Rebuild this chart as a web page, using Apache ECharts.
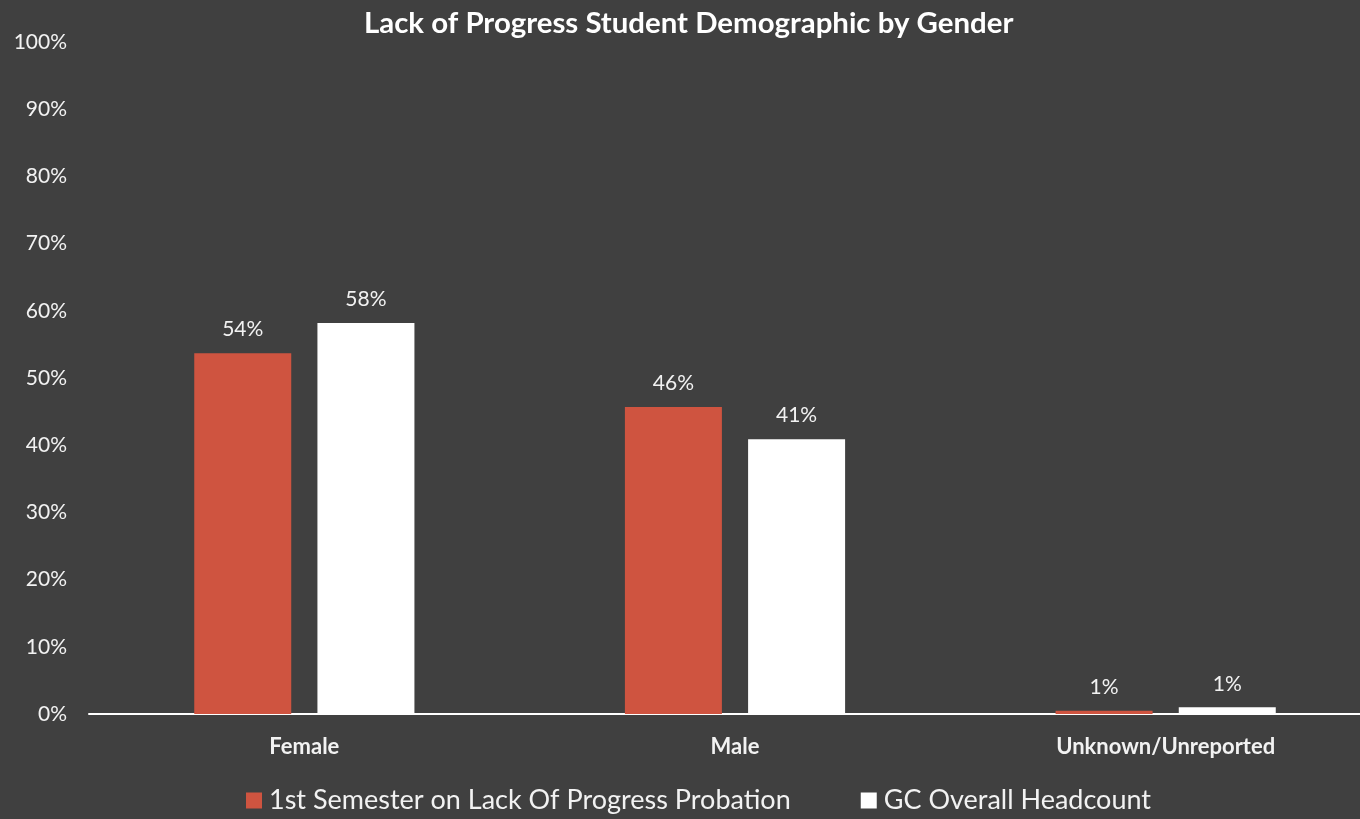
<!DOCTYPE html>
<html>
<head>
<meta charset="utf-8">
<script src="https://cdn.jsdelivr.net/npm/echarts@6/dist/echarts.min.js"></script>
<style>
html,body{margin:0;padding:0;background:#404040;}
#chart{width:1360px;height:819px;}
</style>
</head>
<body>
<div id="chart"></div>
<script>
const categories = ['Female', 'Male', 'Unknown/Unreported'];
const seriesNames = ['1st Semester on Lack Of Progress Probation', 'GC Overall Headcount'];
const probationValues = [53.7, 45.7, 0.5];
const headcountValues = [58.2, 40.9, 1.0];
const yTicks = [0, 10, 20, 30, 40, 50, 60, 70, 80, 90, 100];

const FONT = 'Lato, "Open Sans", sans-serif';
const chart = echarts.init(document.getElementById('chart'));
const labelCfg = {
  show: true, position: 'top', distance: 13,
  color: '#f2f2f2', fontSize: 21, fontFamily: FONT,
  formatter: p => Math.round(p.value) + '%'
};
chart.setOption({
  backgroundColor: '#404040',
  title: {
    text: 'Lack of Progress Student Demographic by Gender',
    left: 359, top: 4,
    textStyle: { color: '#ffffff', fontSize: 29.4, fontWeight: 'bold', fontFamily: FONT }
  },
  legend: {
    bottom: 0, left: 241, itemGap: 70, itemWidth: 16, itemHeight: 16,
    icon: 'rect',
    textStyle: { color: '#f2f2f2', fontSize: 27, fontFamily: FONT, padding: [0, 0, 0, 2] }
  },
  grid: { left: 89, width: 1292, top: 42, bottom: 105, containLabel: false, outerBoundsMode: 'none' },
  xAxis: {
    type: 'category', data: categories,
    axisLine: { lineStyle: { color: '#ffffff', width: 2 } },
    axisTick: { show: false },
    axisLabel: { color: '#f2f2f2', fontSize: 22, fontWeight: 'bold', fontFamily: FONT, margin: 22 }
  },
  yAxis: {
    type: 'value', min: yTicks[0], max: yTicks[yTicks.length - 1], interval: 10,
    splitLine: { show: false },
    axisLine: { show: false },
    axisTick: { show: false },
    axisLabel: { color: '#f2f2f2', fontSize: 21, fontFamily: FONT, margin: 22, formatter: v => v + '%' }
  },
  series: [
    { name: seriesNames[0], type: 'bar', data: probationValues, barWidth: 97, barGap: '27%',
      itemStyle: { color: '#cf5440' }, label: labelCfg },
    { name: seriesNames[1], type: 'bar', data: headcountValues, barWidth: 97,
      itemStyle: { color: '#ffffff' }, label: labelCfg }
  ]
});
</script>
</body>
</html>
